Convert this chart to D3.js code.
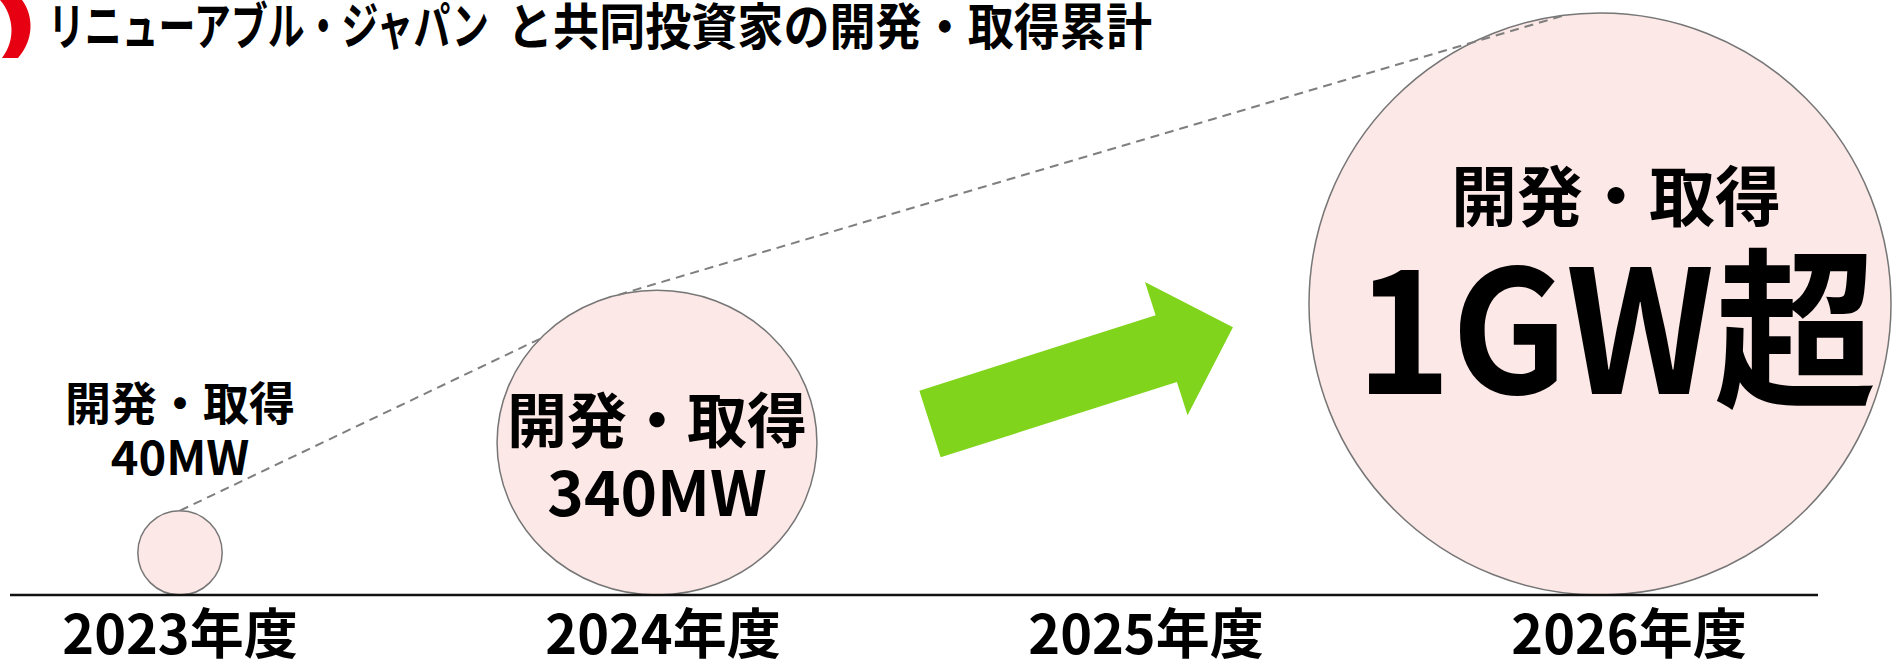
<!DOCTYPE html>
<html>
<head>
<meta charset="utf-8">
<script src="https://cdn.jsdelivr.net/npm/d3@7"></script>
<style>
  body { margin: 0; background: #fff; }
  text { font-family: "Noto Sans CJK JP", "Noto Sans", sans-serif; font-weight: 700; fill: #000; }
</style>
</head>
<body>
<div id="plot"></div>
<script>
const WIDTH = 1892;
const HEIGHT = 662;
const BASE_Y = 595;

// data
const years = ["2023年度", "2024年度", "2025年度", "2026年度"];
const circleYears = ["2023年度", "2024年度", "2026年度"];
const values = [40, 340, 1000];  // MW, cumulative
const headLabels = ["開発・取得", "開発・取得", "開発・取得"];
const valueLabels = ["40MW", "340MW", "1GW超"];

const TITLE_BRAND = "リニューアブル・ジャパン";
const TITLE_REST = "と共同投資家の開発・取得累計";

const X = d3.scalePoint().domain(years).range([180, 1629]);
const R = d3.scalePow().exponent(0.6).domain([0, 1000]).range([0, 291]);

// per bubble layout tweaks (the middle one is drawn slightly wide in the original)
const bubbleShape = [
  {dx: 0, aspect: 1},
  {dx: -6, aspect: 1.05},
  {dx: 0, aspect: 1}
];

const svg = d3.select("#plot")
  .append("svg")
    .attr("width", WIDTH)
    .attr("height", HEIGHT);

// bubbles sit on the baseline, kept inside the frame
const circles = circleYears.map((y, i) => {
  const r = R(values[i]);
  const rx = r * bubbleShape[i].aspect;
  const cx = Math.min(X(y) + bubbleShape[i].dx, WIDTH - rx - 1);
  return {year: y, value: values[i], r: r, rx: rx, cx: cx, cy: BASE_Y - r, head: headLabels[i], label: valueLabels[i]};
});

function onCircle(c, deg) {
  const a = deg * Math.PI / 180;
  return [c.cx + c.rx * Math.cos(a), c.cy + c.r * Math.sin(a)];
}

svg.selectAll(".bubble")
  .data(circles)
  .enter()
  .append("ellipse")
    .attr("class", "bubble")
    .attr("cx", d => d.cx)
    .attr("cy", d => d.cy)
    .attr("rx", d => d.rx)
    .attr("ry", d => d.r)
    .attr("fill", "#fce8e6")
    .attr("stroke", "#767676")
    .attr("stroke-width", 1.5);

// dashed growth connectors
const links = [
  {from: 0, a0: -90, to: 1, a1: -137},
  {from: 1, a0: -104, to: 2, a1: -97}
];
svg.selectAll(".link")
  .data(links)
  .enter()
  .append("line")
    .attr("class", "link")
    .each(function(d) {
      const p0 = onCircle(circles[d.from], d.a0);
      const p1 = onCircle(circles[d.to], d.a1);
      d3.select(this)
        .attr("x1", p0[0]).attr("y1", p0[1])
        .attr("x2", p1[0]).attr("y2", p1[1]);
    })
    .attr("stroke", "#7f7f7f")
    .attr("stroke-width", 2)
    .attr("stroke-dasharray", "9,6");

// baseline
svg.append("line")
  .attr("x1", 10).attr("x2", 1818)
  .attr("y1", BASE_Y).attr("y2", BASE_Y)
  .attr("stroke", "#111")
  .attr("stroke-width", 2.5);

// year labels
svg.selectAll(".year")
  .data(years)
  .enter()
  .append("text")
    .attr("class", "year")
    .attr("x", d => X(d))
    .attr("y", 654)
    .attr("text-anchor", "middle")
    .attr("font-size", 54)
    .text(d => d);

// labels: small bubble gets them above, bigger ones inside (baselines)
const labelStyle = [
  {hy: -91, vy: -36, hs: 46, vs: 47, dx: 0, sy: 1, anchor: "top"},
  {hy: 0, vy: 73, hs: 60, vs: 62, dx: 0, sy: 1, anchor: "center"},
  {hy: -83, vy: 90, hs: 66, vs: 162, dx: 16, sy: 1.06, anchor: "center"}
];
circles.forEach((c, i) => {
  const s = labelStyle[i];
  const refY = s.anchor === "top" ? c.cy - c.r : c.cy;
  svg.append("text")
    .attr("x", c.cx + s.dx)
    .attr("y", refY + s.hy)
    .attr("text-anchor", "middle")
    .attr("font-size", s.hs)
    .text(c.head);
  svg.append("text")
    .attr("transform", "translate(" + (c.cx + s.dx) + "," + (refY + s.vy) + ") scale(1," + s.sy + ")")
    .attr("text-anchor", "middle")
    .attr("font-size", s.vs)
    .text(c.label);
});

// green growth arrow between 2024 and 2026
const L = 318, HL = 70, SW = 35, HW = 70;
const arrowPts = [[0, -SW], [L - HL, -SW], [L - HL, -HW], [L, 0], [L - HL, HW], [L - HL, SW], [0, SW]];
svg.append("path")
  .attr("d", d3.line()(arrowPts) + "Z")
  .attr("fill", "#80d41c")
  .attr("transform", "translate(" + (X("2025年度") - 216) + ",424) rotate(-17.7)");

// title with logo mark
svg.append("path")
  .attr("d", "M0,0 L22,0 C34,16 34,40 18,58 L2,58 C16,40 14,16 0,0 Z")
  .attr("fill", "#e60012");
svg.append("text")
  .attr("transform", "translate(48,45) scale(1,1.1)")
  .attr("font-size", 46)
  .attr("textLength", 441)
  .attr("lengthAdjust", "spacingAndGlyphs")
  .text(TITLE_BRAND);
svg.append("text")
  .attr("transform", "translate(507,45) scale(1,1.08)")
  .attr("font-size", 46)
  .attr("textLength", 645)
  .attr("lengthAdjust", "spacingAndGlyphs")
  .text(TITLE_REST);
</script>
</body>
</html>
